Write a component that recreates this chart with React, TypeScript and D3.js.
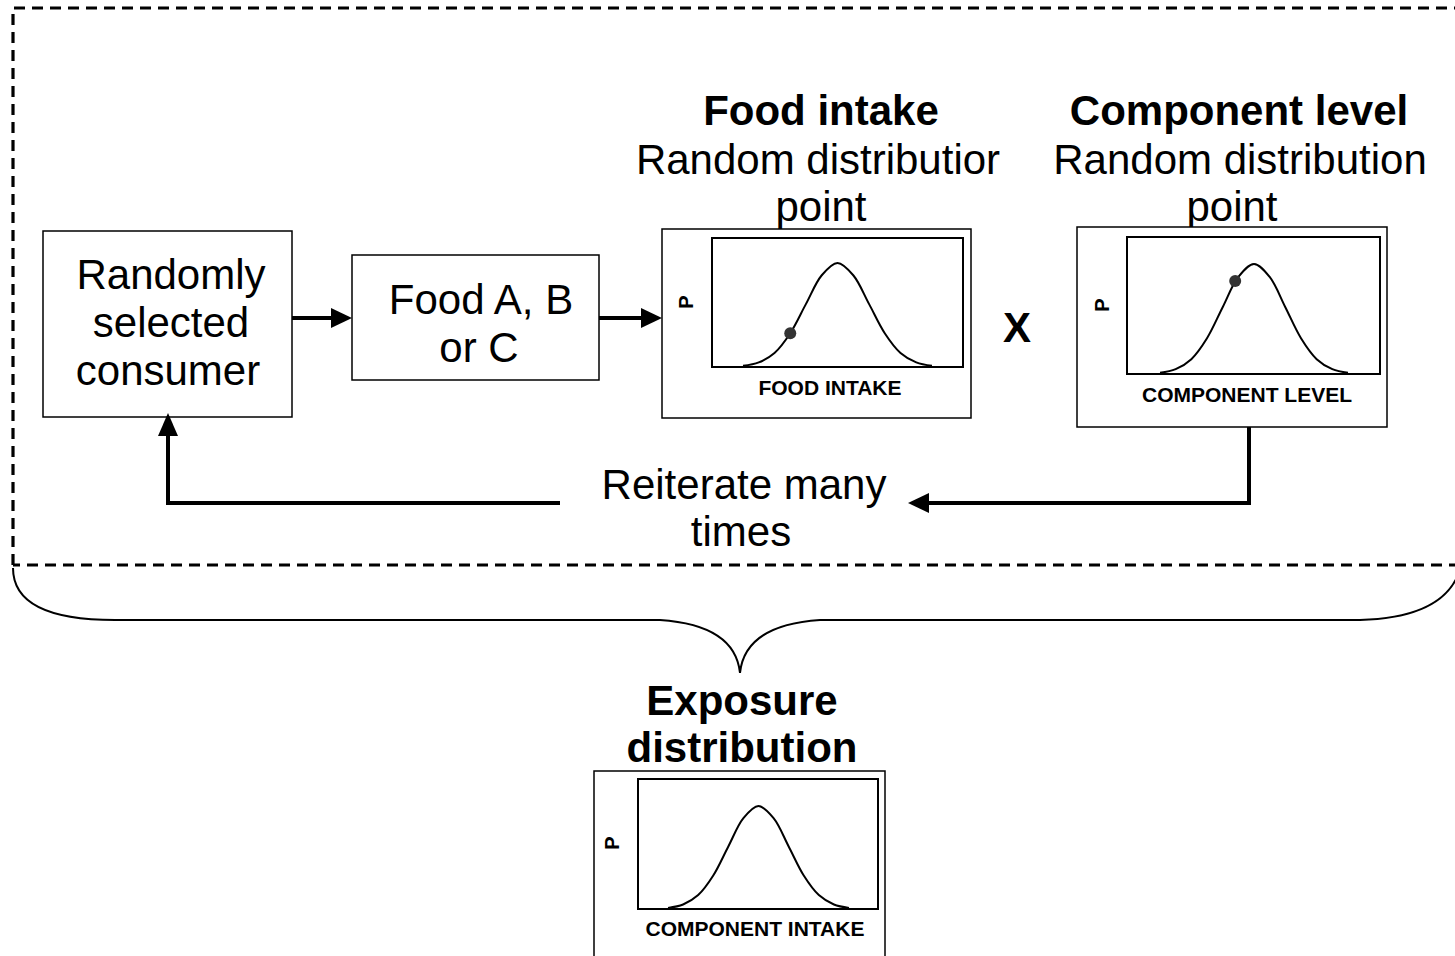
import React from "react";
import * as d3 from "d3";

const curveX = [-3, -2.5, -2, -1.5, -1, -0.5, 0, 0.5, 1, 1.5, 2, 2.5, 3];
const curveP = [0.011, 0.044, 0.135, 0.325, 0.607, 0.882, 1, 0.882, 0.607, 0.325, 0.135, 0.044, 0.011];

const panelLabels = ["FOOD INTAKE", "COMPONENT LEVEL", "COMPONENT INTAKE"];
const dotX = [-1.5, -0.6, null];
const dotP = [0.325, 0.845, null];

const FONT = "'Liberation Sans', Arial, Helvetica, sans-serif";

type Panel = {
  outer: [number, number, number, number];
  inner: [number, number, number, number];
  xr: [number, number];
  yr: [number, number];
  pPos: [number, number];
  labelPos: [number, number];
};

const panelGeom: Panel[] = [
  { outer: [662, 229, 971, 418], inner: [712, 238, 963, 367], xr: [743, 932], yr: [367, 263], pPos: [688, 302], labelPos: [830, 395] },
  { outer: [1077, 227, 1387, 427], inner: [1127, 237, 1380, 374], xr: [1160, 1348], yr: [374, 264], pPos: [1104, 305], labelPos: [1247, 402] },
  { outer: [594, 771, 885, 980], inner: [638, 779, 878, 909], xr: [668, 849], yr: [909, 806], pPos: [614, 843], labelPos: [755, 936] },
];

const DistPanel = ({ i }: { i: number }) => {
  const g = panelGeom[i];
  const x = d3.scaleLinear().domain([-3, 3]).range(g.xr);
  const y = d3.scaleLinear().domain([0, 1]).range(g.yr);
  const line = d3
    .line<number>()
    .x((_, k) => x(curveX[k]))
    .y((d) => y(d))
    .curve(d3.curveCatmullRom);
  const [ox0, oy0, ox1, oy1] = g.outer;
  const [ix0, iy0, ix1, iy1] = g.inner;
  return (
    <g>
      <rect x={ox0} y={oy0} width={ox1 - ox0} height={oy1 - oy0} fill="#fff" stroke="#000" strokeWidth={1.5} />
      <rect x={ix0} y={iy0} width={ix1 - ix0} height={iy1 - iy0} fill="none" stroke="#000" strokeWidth={2} />
      <path d={line(curveP) || ""} fill="none" stroke="#000" strokeWidth={2} />
      {dotX[i] !== null && (
        <circle cx={x(dotX[i] as number)} cy={y(dotP[i] as number)} r={6} fill="#333" />
      )}
      <text
        transform={`translate(${g.pPos[0]},${g.pPos[1]}) rotate(-90)`}
        textAnchor="middle"
        dominantBaseline="middle"
        fontWeight="bold"
        fontSize={20}
      >
        P
      </text>
      <text x={g.labelPos[0]} y={g.labelPos[1]} textAnchor="middle" fontWeight="bold" fontSize={21}>
        {panelLabels[i]}
      </text>
    </g>
  );
};

const Arrow = ({ pts, tip }: { pts: [number, number][]; tip: "right" | "left" | "up" }) => {
  const line = d3.line();
  const [tx, ty] = pts[pts.length - 1];
  let head = "";
  if (tip === "right") head = `M${tx},${ty} L${tx - 21},${ty - 10} L${tx - 21},${ty + 10} Z`;
  if (tip === "left") head = `M${tx},${ty} L${tx + 21},${ty - 10} L${tx + 21},${ty + 10} Z`;
  if (tip === "up") head = `M${tx},${ty} L${tx - 10},${ty + 23} L${tx + 10},${ty + 23} Z`;
  const shaft = pts.slice();
  const last = shaft[shaft.length - 1];
  if (tip === "right") shaft[shaft.length - 1] = [last[0] - 15, last[1]];
  if (tip === "left") shaft[shaft.length - 1] = [last[0] + 15, last[1]];
  if (tip === "up") shaft[shaft.length - 1] = [last[0], last[1] + 15];
  return (
    <g>
      <path d={line(shaft) || ""} fill="none" stroke="#000" strokeWidth={4} strokeLinejoin="miter" />
      <path d={head} fill="#000" />
    </g>
  );
};

export default function App() {
  return (
    <svg
      width={1455}
      height={956}
      style={{ position: "absolute", left: 0, top: 0, background: "#fff" }}
      fontFamily={FONT}
    >
      {/* dashed frame */}
      <path
        d="M13,565 L13,8 L1460,8 M1460,565 L13,565"
        fill="none"
        stroke="#000"
        strokeWidth={3.2}
        strokeDasharray="11 7"
      />
      {/* brace */}
      <path
        d="M13,568 Q13,620 115,620 L660,620 Q735,625 740,673 Q745,625 820,620 L1360,620 Q1440,618 1458,575"
        fill="none"
        stroke="#000"
        strokeWidth={2}
      />

      {/* consumer box */}
      <rect x={43} y={231} width={249} height={186} fill="#fff" stroke="#000" strokeWidth={1.5} />
      <g fontSize={42} textAnchor="middle">
        <text x={171} y={289}>Randomly</text>
        <text x={171} y={337}>selected</text>
        <text x={168} y={385}>consumer</text>
      </g>

      {/* food box */}
      <rect x={352} y={255} width={247} height={125} fill="#fff" stroke="#000" strokeWidth={1.5} />
      <g fontSize={42} textAnchor="middle">
        <text x={481} y={314}>Food A, B</text>
        <text x={479} y={362}>or C</text>
      </g>

      <Arrow pts={[[292, 318], [352, 318]]} tip="right" />
      <Arrow pts={[[599, 318], [662, 318]]} tip="right" />

      {/* titles */}
      <g fontSize={42} textAnchor="middle">
        <text x={821} y={125} fontWeight="bold">Food intake</text>
        <text x={818} y={174}>Random distributior</text>
        <text x={821} y={221}>point</text>
        <text x={1239} y={125} fontWeight="bold">Component level</text>
        <text x={1240} y={174}>Random distribution</text>
        <text x={1232} y={221}>point</text>
        <text x={1017} y={342} fontWeight="bold">X</text>
        <text x={744} y={499}>Reiterate many</text>
        <text x={741} y={546}>times</text>
        <text x={742} y={715} fontWeight="bold">Exposure</text>
        <text x={742} y={762} fontWeight="bold">distribution</text>
      </g>

      <DistPanel i={0} />
      <DistPanel i={1} />
      <DistPanel i={2} />

      {/* feedback loop */}
      <Arrow pts={[[1249, 427], [1249, 503], [908, 503]]} tip="left" />
      <Arrow pts={[[560, 503], [168, 503], [168, 413]]} tip="up" />
    </svg>
  );
}
